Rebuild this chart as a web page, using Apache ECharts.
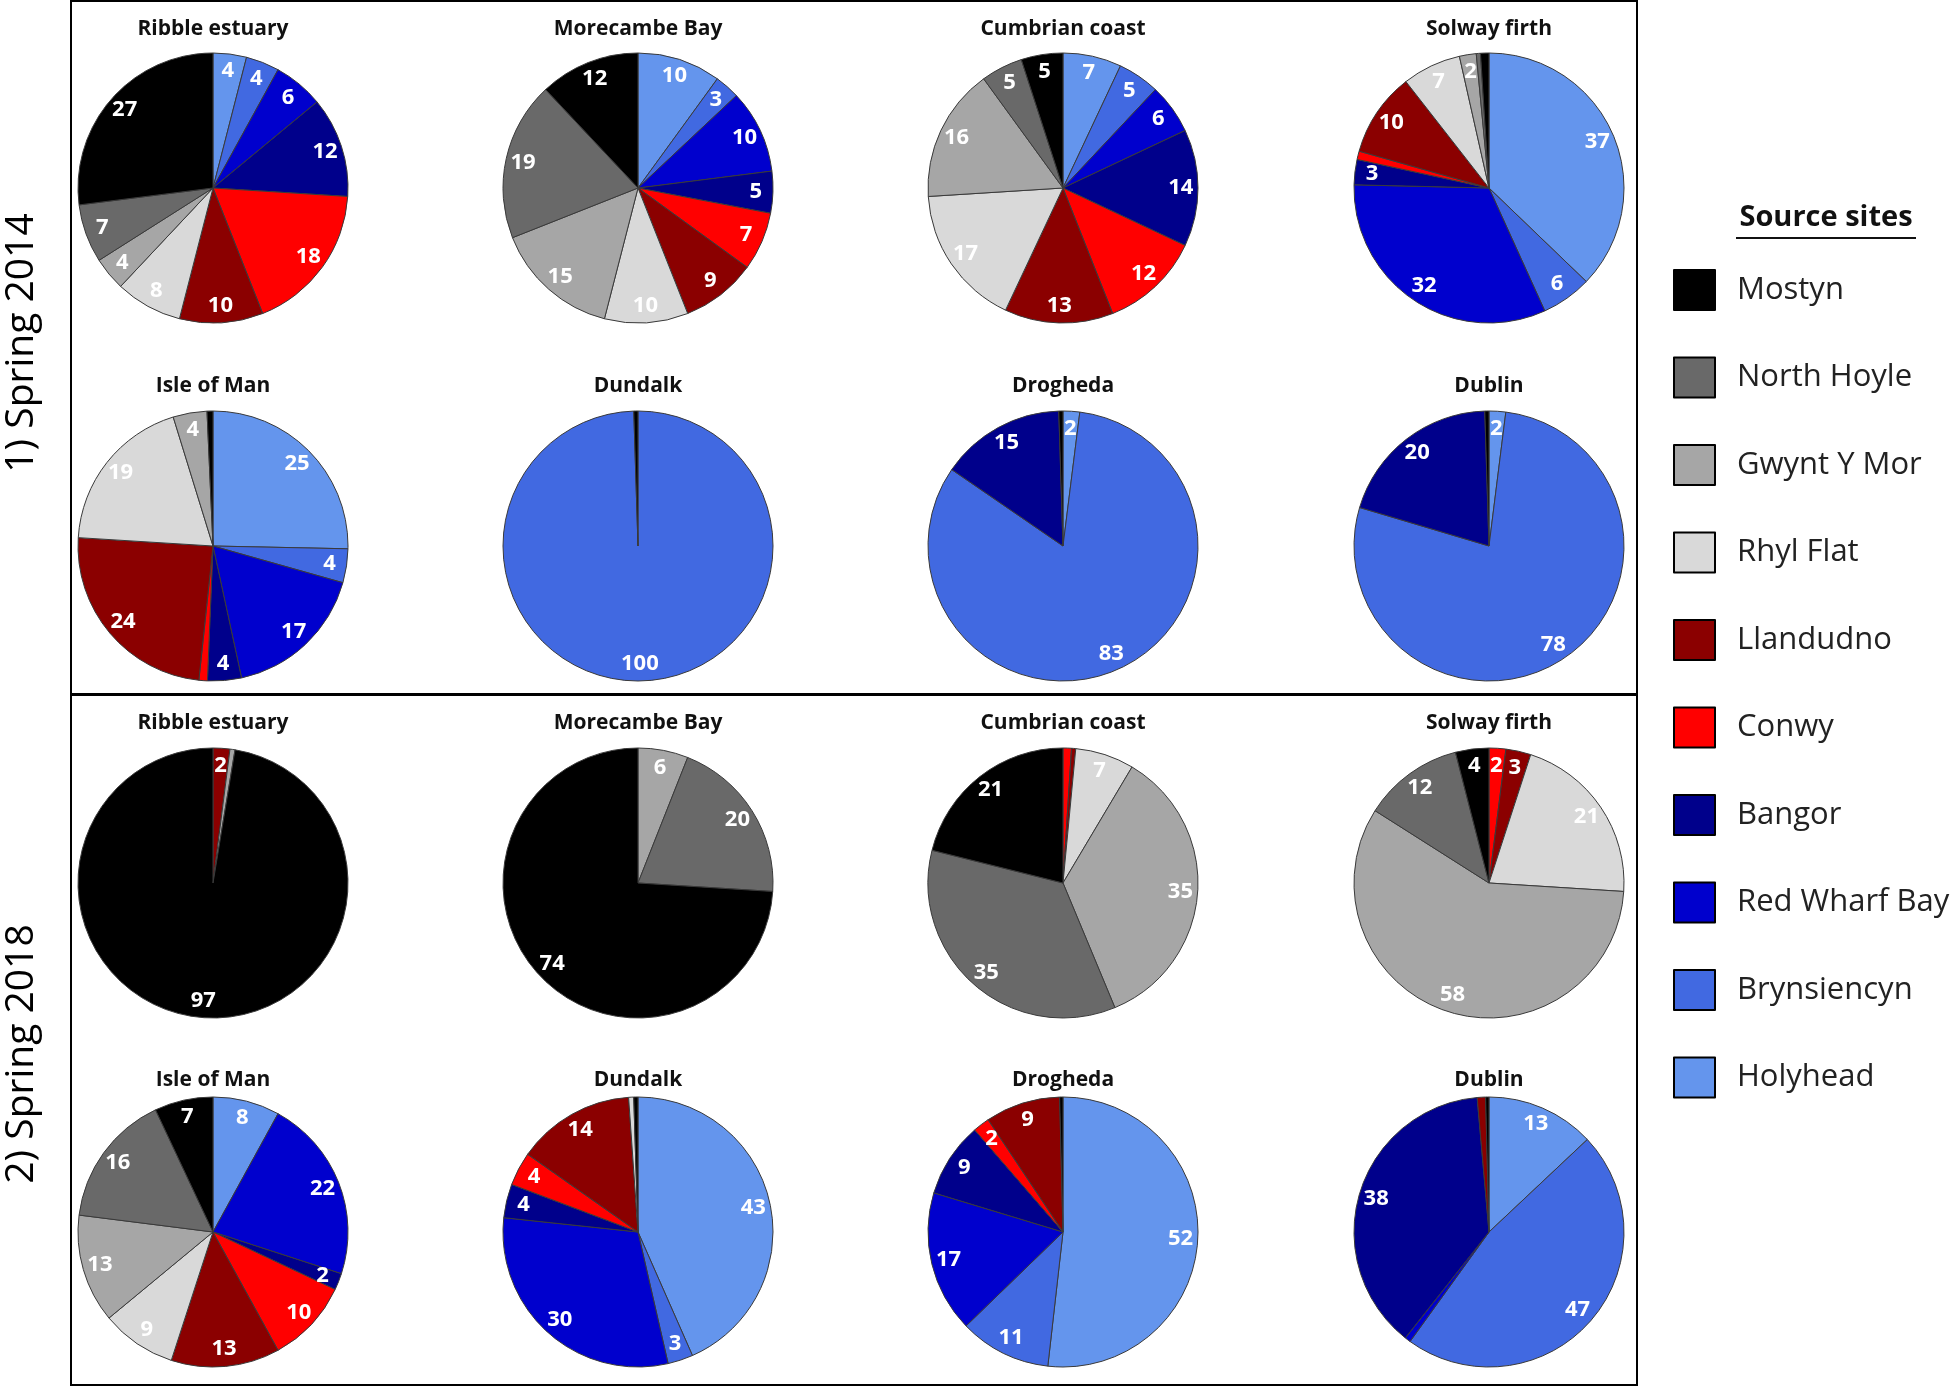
<!DOCTYPE html>
<html>
<head>
<meta charset="utf-8">
<title>Source sites</title>
<script src="https://cdn.jsdelivr.net/npm/echarts@6/dist/echarts.min.js"></script>
<style>
  html, body { margin: 0; padding: 0; background: #fff; }
  #main { width: 1956px; height: 1390px; }
</style>
</head>
<body>
<div id="main"></div>
<script>
// source sites, in legend order
var sites = ['Mostyn', 'North Hoyle', 'Gwynt Y Mor', 'Rhyl Flat', 'Llandudno', 'Conwy', 'Bangor', 'Red Wharf Bay', 'Brynsiencyn', 'Holyhead'];
var siteColors = ['#000000', '#696969', '#a6a6a6', '#d9d9d9', '#8b0000', '#ff0000', '#00008b', '#0000cd', '#4169e1', '#6495ed'];
var locations = ['Ribble estuary', 'Morecambe Bay', 'Cumbrian coast', 'Solway firth', 'Isle of Man', 'Dundalk', 'Drogheda', 'Dublin'];
var periods = ['1) Spring 2014', '2) Spring 2018'];

// % per site (same order as sites)
var spring2014 = [
  [27, 7, 4, 8, 10, 18, 12, 6, 4, 4],
  [12, 19, 15, 10, 9, 7, 5, 10, 3, 10],
  [5, 5, 16, 17, 13, 12, 14, 6, 5, 7],
  [1, 0.5, 2, 7, 10, 1, 3, 32, 6, 37],
  [0.7, 0, 4, 19, 24, 1, 4, 17, 4, 25],
  [0.5, 0, 0, 0, 0, 0, 0, 0, 99.5, 0],
  [0.5, 0, 0, 0, 0, 0, 15, 0, 83, 2],
  [0.5, 0, 0, 0, 0, 0, 20, 0, 78, 2]
];
var spring2018 = [
  [97, 0, 0.6, 0, 2, 0, 0, 0, 0, 0],
  [74, 20, 6, 0, 0, 0, 0, 0, 0, 0],
  [21, 35, 35, 7, 0.5, 1, 0, 0, 0, 0],
  [4, 12, 58, 21, 3, 2, 0, 0, 0, 0],
  [7, 16, 13, 9, 13, 10, 2, 22, 0, 8],
  [0.5, 0, 0, 0.6, 14, 4, 4, 30, 3, 43],
  [0.4, 0, 0, 0, 9, 2, 9, 17, 11, 52],
  [0.4, 0, 0, 0, 1, 0, 38, 0.7, 47, 13]
];

var colX = [213, 638, 1063, 1489];
var rowY = [188, 546, 883, 1232];
var titleY = [29, 386, 723, 1080];
var R = 135;

var chart = echarts.init(document.getElementById('main'));

function pieData(vals, suffix) {
  var out = [];
  // clockwise from 12 o'clock: Holyhead first
  for (var i = sites.length - 1; i >= 0; i--) {
    if (vals[i] > 0) {
      out.push({ name: sites[i] + suffix, value: vals[i], itemStyle: { color: siteColors[i] } });
    }
  }
  return out;
}

var series = [];
var graphics = [];
[spring2014, spring2018].forEach(function (set, p) {
  set.forEach(function (vals, k) {
    var r = p * 2 + Math.floor(k / 4);
    var c = k % 4;
    var center = [colX[c], rowY[r]];
    series.push({
      type: 'pie',
      center: center,
      radius: [0, R],
      startAngle: 90,
      animation: false,
      silent: true,
      label: { show: false },
      labelLine: { show: false },
      itemStyle: { borderColor: '#3a3a3a', borderWidth: 1 },
      data: pieData(vals, '')
    });
    // label ring, so labels sit near the rim like the original
    series.push({
      type: 'pie',
      center: center,
      radius: [R * 0.7, R],
      startAngle: 90,
      animation: false,
      silent: true,
      avoidLabelOverlap: false,
      itemStyle: { color: 'rgba(0,0,0,0)', borderWidth: 0 },
      label: {
        show: true,
        position: 'inside',
        color: '#fff',
        fontFamily: 'Open Sans',
        fontWeight: 'bold',
        fontSize: 22,
        formatter: function (pr) {
          return pr.value >= 2 ? Math.round(pr.value) + '' : '';
        }
      },
      labelLine: { show: false },
      data: pieData(vals, ' ').map(function (d) {
        return { name: d.name, value: d.value, itemStyle: { color: 'rgba(0,0,0,0)' } };
      })
    });
    graphics.push({
      type: 'text',
      x: colX[c],
      y: titleY[r],
      style: {
        text: locations[k],
        fill: '#111',
        font: 'bold 21px "Open Sans"',
        align: 'center',
        verticalAlign: 'middle'
      }
    });
  });
});

// panel boxes
graphics.push({ type: 'rect', shape: { x: 71, y: 1, width: 1566, height: 693 }, style: { fill: 'none', stroke: '#000', lineWidth: 2 } });
graphics.push({ type: 'rect', shape: { x: 71, y: 695, width: 1566, height: 690 }, style: { fill: 'none', stroke: '#000', lineWidth: 2 } });

// side labels
[343, 1054].forEach(function (y, i) {
  graphics.push({
    type: 'text',
    x: 22,
    y: y,
    rotation: Math.PI / 2,
    style: {
      text: periods[i],
      fill: '#000',
      font: '39px "Open Sans"',
      align: 'center',
      verticalAlign: 'middle'
    }
  });
});

// legend heading, underlined
graphics.push({
  type: 'text',
  x: 1826,
  y: 218,
  style: { text: 'Source sites', fill: '#111', font: 'bold 29px "Open Sans"', align: 'center', verticalAlign: 'middle' }
});
graphics.push({ type: 'line', shape: { x1: 1736, y1: 238, x2: 1916, y2: 238 }, style: { stroke: '#111', lineWidth: 2 } });

chart.setOption({
  backgroundColor: '#fff',
  animation: false,
  legend: {
    orient: 'vertical',
    left: 1668,
    top: 264,
    itemWidth: 41,
    itemHeight: 40,
    itemGap: 45.5,
    icon: 'rect',
    selectedMode: false,
    data: sites,
    itemStyle: { borderColor: '#000', borderWidth: 2 },
    textStyle: {
      fontFamily: 'Open Sans',
      fontSize: 31,
      color: '#222',
      padding: [0, 0, 0, 17]
    }
  },
  series: series,
  graphic: graphics
});
</script>
</body>
</html>
